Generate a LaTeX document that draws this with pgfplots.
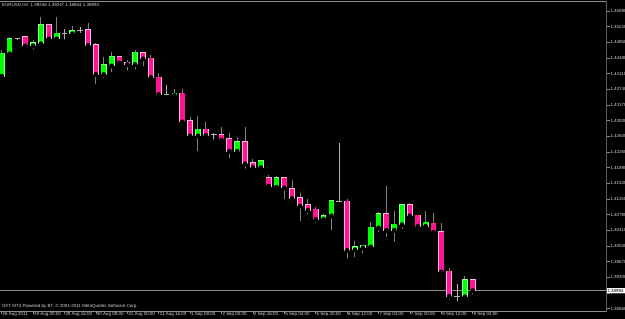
\documentclass[border=0pt]{standalone}
\usepackage{pgfplots}
\pgfplotsset{compat=1.18}
\usepackage{pgfplotstable}
\usepackage{fontspec}
\setmainfont{Liberation Sans}
\definecolor{bullc}{HTML}{00FF00}
\definecolor{bullb}{HTML}{8CFF8C}
\definecolor{bearc}{HTML}{FF1493}
\definecolor{bearb}{HTML}{FFB8DC}
\definecolor{wickc}{HTML}{808080}
\definecolor{dojic}{HTML}{B4B4B4}
\definecolor{axc}{HTML}{8C8C8C}
\definecolor{txtc}{HTML}{D8D8D8}
\newcommand\lbl{\fontsize{4.5}{5}\selectfont}

\pgfplotstableread{
i o h l c
0 1.44055 1.44669 1.44008 1.44591
1 1.44582 1.44983 1.44551 1.44929
4 1.44771 1.44905 1.44629 1.44834
5 1.44818 1.45455 1.44810 1.45259
7 1.44936 1.45441 1.44827 1.45063
9 1.45054 1.45236 1.45023 1.45125
13 1.44095 1.44511 1.43961 1.44315
14 1.44298 1.44629 1.44095 1.44511
17 1.44331 1.44669 1.44157 1.44615
22 1.43599 1.43741 1.43488 1.43647
25 1.42645 1.43111 1.42230 1.42797
30 1.42284 1.42608 1.42213 1.42497
33 1.41899 1.42072 1.41876 1.42055
35 1.41434 1.41694 1.41363 1.41647
41 1.40671 1.40803 1.40600 1.40756
42 1.40756 1.41127 1.40355 1.41103
45 1.39953 1.40159 1.39727 1.40017
46 1.40001 1.40072 1.39821 1.40057
47 1.40024 1.40607 1.40010 1.40482
48 1.40473 1.40851 1.40324 1.40803
50 1.40418 1.40874 1.40088 1.40553
51 1.40548 1.41032 1.40395 1.41009
54 1.40506 1.40867 1.40497 1.40600
59 1.38843 1.39332 1.38840 1.39238
}\bull

\pgfplotstableread{
i o h l c
3 1.44983 1.45007 1.44747 1.44771
6 1.45259 1.45283 1.44851 1.44936
11 1.45141 1.45300 1.44686 1.44780
12 1.44787 1.44827 1.43819 1.44095
15 1.44511 1.44520 1.44275 1.44369
16 1.44369 1.44433 1.44133 1.44331
18 1.44598 1.44605 1.44237 1.44464
19 1.44473 1.44551 1.43921 1.44024
20 1.44024 1.44119 1.43547 1.43623
23 1.43647 1.43741 1.42874 1.42976
24 1.42993 1.43080 1.42608 1.42645
26 1.42797 1.42962 1.42560 1.42655
28 1.42662 1.42844 1.42504 1.42544
29 1.42567 1.42702 1.42055 1.42284
31 1.42497 1.42844 1.41819 1.41984
32 1.42008 1.42095 1.41812 1.41899
34 1.41647 1.41717 1.41363 1.41458
36 1.41654 1.41677 1.41096 1.41417
37 1.41394 1.41599 1.41049 1.41167
38 1.41174 1.41285 1.40577 1.40992
39 1.41009 1.41151 1.40733 1.40891
40 1.40907 1.40955 1.40537 1.40671
44 1.41096 1.41151 1.39694 1.39939
49 1.40803 1.41465 1.40206 1.40418
52 1.41009 1.41056 1.40733 1.40756
53 1.40766 1.40773 1.40473 1.40506
55 1.40579 1.40813 1.40260 1.40371
56 1.40371 1.40591 1.39373 1.39434
57 1.39443 1.39528 1.38725 1.38860
60 1.39246 1.39247 1.38854 1.38994
}\bear

\pgfplotstableread{
i o h l c
2 1.44936 1.44960 1.44851 1.44936
8 1.45063 1.45158 1.44865 1.45063
10 1.45125 1.45219 1.45023 1.45125
21 1.43623 1.43843 1.43552 1.43623
27 1.42669 1.42716 1.42504 1.42669
43 1.41096 1.42480 1.41049 1.41096
58 1.38860 1.39143 1.38688 1.38860
}\doji

\begin{document}
\begin{tikzpicture}
\useasboundingbox (0bp,0bp) rectangle (625bp,319bp);
\fill[black] (0bp,0bp) rectangle (625bp,319bp);
\begin{axis}[
  at={(0bp,7.5bp)}, anchor=south west,
  width=606.5bp, height=310bp, scale only axis,
  xmin=-0.2166, xmax=77.04,
  ymin=1.38494, ymax=1.45814,
  axis line style={draw=none},
  xtick={0,4,...,60},
  xticklabels={26 Aug 2011, 29 Aug 00:00, 29 Aug 16:00, 30 Aug 08:00, 31 Aug 00:00, 31 Aug 16:00, 1 Sep 08:00, 2 Sep 00:00, 2 Sep 16:00, 5 Sep 04:00, 5 Sep 20:00, 6 Sep 12:00, 7 Sep 04:00, 7 Sep 20:00, 8 Sep 12:00, 9 Sep 04:00},
  ytick={1.3856,1.3893,1.3930,1.3967,1.4004,1.4041,1.4078,1.4115,1.4152,1.4189,1.4226,1.4263,1.4300,1.4337,1.4374,1.4411,1.4448,1.4485,1.4522,1.4559},
  yticklabels={1.38560,1.38930,1.39300,1.39670,1.40040,1.40410,1.40780,1.41150,1.41520,1.41890,1.42260,1.42630,1.43000,1.43370,1.43740,1.44110,1.44480,1.44850,1.45220,1.45590},
  xtick pos=bottom, ytick pos=right, yticklabel pos=right,
  tick align=outside, major tick length=3bp,
  tick style={draw=axc, line width=0.6bp},
  yticklabel style={anchor=west, font=\lbl, text=txtc, inner sep=0pt, xshift=0.8bp},
  xticklabel style={anchor=north west, font=\lbl, text=txtc, inner sep=0pt, xshift=0.8bp, yshift=2.2bp},
]
% frame
\draw[axc, line width=0.6bp] (rel axis cs:0,1) -- (rel axis cs:1,1) -- (rel axis cs:1,0) -- (rel axis cs:0,0);
% bid line
\addplot[axc, line width=0.6bp, forget plot] coordinates {(-1,1.38994) (80,1.38994)};
% wicks
\addplot[only marks, mark=none, forget plot, error bars/.cd, y dir=plus, y explicit, error mark=none,
  error bar style={draw=wickc, line width=1bp}] table[x=i, y=l, y error expr=\thisrow{h}-\thisrow{l}] {\bull};
\addplot[only marks, mark=none, forget plot, error bars/.cd, y dir=plus, y explicit, error mark=none,
  error bar style={draw=wickc, line width=1bp}] table[x=i, y=l, y error expr=\thisrow{h}-\thisrow{l}] {\bear};
\addplot[only marks, mark=none, forget plot, error bars/.cd, y dir=plus, y explicit, error mark=none,
  error bar style={draw=dojic, line width=0.8bp}] table[x=i, y=l, y error expr=\thisrow{h}-\thisrow{l}] {\doji};
% bodies bull
\addplot[only marks, mark=none, forget plot, error bars/.cd, y dir=plus, y explicit, error mark=none,
  error bar style={draw=bullb, line width=5.8bp}] table[x=i, y expr=\thisrow{o}-0.00013, y error expr=\thisrow{c}-\thisrow{o}+0.00026] {\bull};
\addplot[only marks, mark=none, forget plot, error bars/.cd, y dir=plus, y explicit, error mark=none,
  error bar style={draw=bullc, line width=4.6bp}] table[x=i, y=o, y error expr=\thisrow{c}-\thisrow{o}] {\bull};
% bodies bear
\addplot[only marks, mark=none, forget plot, error bars/.cd, y dir=plus, y explicit, error mark=none,
  error bar style={draw=bearb, line width=5.8bp}] table[x=i, y expr=\thisrow{c}-0.00013, y error expr=\thisrow{o}-\thisrow{c}+0.00026] {\bear};
\addplot[only marks, mark=none, forget plot, error bars/.cd, y dir=plus, y explicit, error mark=none,
  error bar style={draw=bearc, line width=4.6bp}] table[x=i, y=c, y error expr=\thisrow{o}-\thisrow{c}] {\bear};
% doji bodies
\addplot[only marks, mark=-, mark size=2.9bp, mark options={draw=dojic, line width=0.8bp}, forget plot] table[x=i, y=o] {\doji};
\end{axis}
\node[anchor=west, fill=white, text=black, inner xsep=0.8bp, inner ysep=0.7bp, font=\lbl] at (606.5bp,28.5bp) {1.38994};
\node[anchor=north west, inner sep=0pt, font=\lbl, text=txtc] at (2bp,315.5bp) {EURUSD,H4\ \ 1.39246 1.39247 1.38854 1.38994};
\node[anchor=north west, inner sep=0pt, font=\lbl, text=txtc] at (2bp,14.8bp) {GFT MT4 Powered by BT, © 2001-2011 MetaQuotes Software Corp.};
\end{tikzpicture}
\end{document}
